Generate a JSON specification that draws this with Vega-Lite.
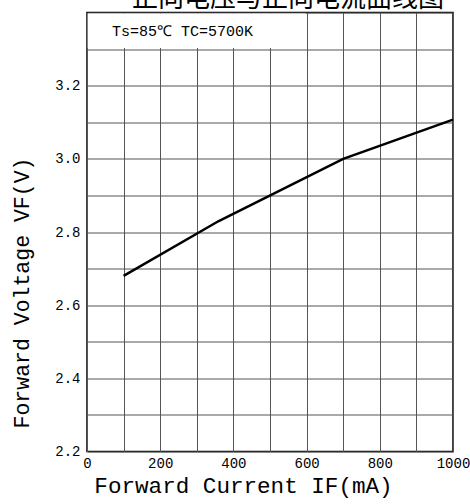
{
  "$schema": "https://vega.github.io/schema/vega-lite/v6.json",
  "autosize": {"type": "none"},
  "width": 366,
  "height": 439,
  "padding": {"left": 87, "top": 12.5, "right": 17, "bottom": 52.5},
  "background": "white",
  "title": {
    "text": "正向电压与正向电流曲线图",
    "font": "Noto Sans CJK SC",
    "fontSize": 26,
    "fontWeight": "normal",
    "color": "black",
    "anchor": "middle",
    "frame": "group",
    "dx": 18,
    "offset": -25,
    "baseline": "bottom"
  },
  "config": {
    "view": {"stroke": "black", "strokeWidth": 1.5},
    "axis": {
      "labelFont": "Liberation Mono",
      "titleFont": "Liberation Mono",
      "labelColor": "black",
      "titleColor": "black",
      "labelFontSize": 14,
      "titleFontSize": 22,
      "titleFontWeight": "normal",
      "ticks": false,
      "domain": false,
      "gridColor": "#555555",
      "gridOpacity": 1,
      "gridWidth": 1
    }
  },
  "encoding": {
    "x": {
      "field": "x", "type": "quantitative",
      "scale": {"domain": [0, 1000], "nice": false},
      "axis": {
        "title": "Forward Current IF(mA)",
        "titleFontSize": 22.6,
        "values": [0, 100, 200, 300, 400, 500, 600, 700, 800, 900, 1000],
        "labelExpr": "datum.value % 200 == 0 ? format(datum.value, 'd') : ''",
        "labelPadding": 5,
        "titleX": 156,
        "titleY": 34,
        "titleAlign": "center",
        "titleBaseline": "middle",
        "labelFlush": false
      }
    },
    "y": {
      "field": "y", "type": "quantitative",
      "scale": {"domain": [2.2, 3.4], "nice": false, "zero": false},
      "axis": {
        "title": "Forward Voltage VF(V)",
        "titleFontSize": 21.5,
        "values": [2.2, 2.3, 2.4, 2.5, 2.6, 2.7, 2.8, 2.9, 3.0, 3.1, 3.2, 3.3, 3.4],
        "labelExpr": "(round(datum.value*10) % 2 == 0 && datum.value < 3.35) ? format(datum.value, '.1f') : ''",
        "labelPadding": 7,
        "titleX": -65,
        "titleY": 280,
        "titleAngle": -90,
        "titleAlign": "center",
        "titleBaseline": "middle",
        "labelFlush": false
      }
    }
  },
  "layer": [
    {
      "data": {"values": [{"x": 2, "x2": 597, "y": 3.303, "y2": 3.397}]},
      "mark": {"type": "rect", "fill": "white", "stroke": null},
      "encoding": {
        "x2": {"field": "x2"},
        "y2": {"field": "y2"}
      }
    },
    {
      "data": {"values": [{"x": 68, "y": 3.35, "label": "Ts=85℃ TC=5700K"}]},
      "mark": {"type": "text", "font": "Liberation Mono", "fontSize": 15, "align": "left", "baseline": "middle", "color": "black"},
      "encoding": {
        "text": {"field": "label"}
      }
    },
    {
      "data": {"values": [
        {"x": 100, "y": 2.68},
        {"x": 360, "y": 2.83},
        {"x": 700, "y": 3.0},
        {"x": 1000, "y": 3.107}
      ]},
      "mark": {"type": "line", "color": "black", "strokeWidth": 2.5}
    }
  ]
}
